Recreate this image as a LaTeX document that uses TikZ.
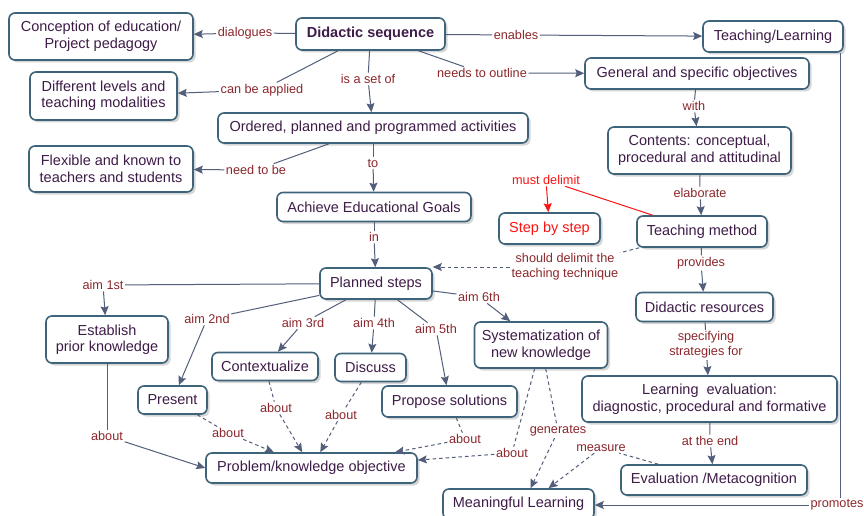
\documentclass[tikz,border=0pt]{standalone}
\usepackage{fontspec}
\setmainfont{Liberation Sans}
\usetikzlibrary{arrows.meta,shadows,calc}

\definecolor{boxc}{RGB}{61,100,122}
\definecolor{txtc}{RGB}{62,28,72}
\definecolor{labc}{RGB}{140,40,45}
\definecolor{lnc}{RGB}{82,94,122}
\definecolor{redc}{RGB}{250,20,20}

\tikzset{
  cbox/.style={draw=boxc, line width=1.6pt, rounded corners=6pt, fill=white,
    text=txtc, align=center, inner sep=0pt,
    font=\fontsize{14.5}{16.5}\selectfont,
    drop shadow={shadow xshift=2.5pt, shadow yshift=-2.5pt, fill=gray!70, opacity=0.45}},
  lab/.style={text=labc, align=center, inner sep=1.5pt,
    font=\fontsize{12.7}{15}\selectfont},
  ln/.style={draw=lnc, line width=1pt},
  arr/.style={ln, -{Stealth[length=9pt,width=8pt,inset=1.5pt]}},
  dsh/.style={dash pattern=on 3.5pt off 3pt},
  redln/.style={draw=redc, line width=1pt},
  redarr/.style={redln, -{Stealth[length=9pt,width=8pt,inset=1.5pt]}},
}

\begin{document}
\begin{tikzpicture}[x=1pt,y=-1pt]
\fill[white] (0,0) rectangle (864,516);
\useasboundingbox (0,0) rectangle (864,516);

% ---- concepts ----
\node[cbox, minimum width=184, minimum height=47] (ce) at (101,36.5) {Conception of education/\\Project pedagogy};
\node[cbox, minimum width=149, minimum height=32, font=\fontsize{14.5}{16.5}\selectfont\bfseries] (ds) at (370.5,34) {Didactic sequence};
\node[cbox, minimum width=140, minimum height=31] (tl) at (773,36.5) {Teaching/Learning};
\node[cbox, minimum width=147, minimum height=48] (dl) at (103.5,96) {Different levels and\\teaching modalities};
\node[cbox, minimum width=224, minimum height=31] (go) at (697,73.5) {General and specific objectives};
\node[cbox, minimum width=310, minimum height=30] (op) at (373,128) {Ordered, planned and programmed activities};
\node[cbox, minimum width=164, minimum height=46] (fl) at (111,169) {Flexible and known to\\teachers and students};
\node[cbox, minimum width=183, minimum height=47] (ct) at (699.5,150.5) {Contents: conceptual,\\procedural and attitudinal};
\node[cbox, minimum width=194, minimum height=29] (ae) at (374,207) {Achieve Educational Goals};
\node[cbox, minimum width=101, minimum height=31, text=redc] (sb) at (549.5,228.5) {Step by step};
\node[cbox, minimum width=130, minimum height=31] (tm) at (702,231.5) {Teaching method};
\node[cbox, minimum width=112, minimum height=31] (ps) at (376,283.5) {Planned steps};
\node[cbox, minimum width=137, minimum height=29] (dr) at (704.5,307) {Didactic resources};
\node[cbox, minimum width=122, minimum height=47] (ep) at (107,339.5) {Establish\\prior knowledge};
\node[cbox, minimum width=133, minimum height=46] (sy) at (541,345) {Systematization of\\new knowledge};
\node[cbox, minimum width=106, minimum height=28] (cx) at (265,366.5) {Contextualize};
\node[cbox, minimum width=71, minimum height=28] (di) at (370.5,367.5) {Discuss};
\node[cbox, minimum width=255, minimum height=46] (le) at (709.5,399) {Learning\ \ evaluation:\\diagnostic, procedural and formative};
\node[cbox, minimum width=69, minimum height=28] (pre) at (172.5,400) {Present};
\node[cbox, minimum width=135, minimum height=31] (po) at (449.5,401.5) {Propose solutions};
\node[cbox, minimum width=211, minimum height=30] (pk) at (311.5,468) {Problem/knowledge objective};
\node[cbox, minimum width=186, minimum height=30] (em) at (714,480) {Evaluation /Metacognition};
\node[cbox, minimum width=151, minimum height=30] (ml) at (518.5,504) {Meaningful Learning};

% ---- linking phrases ----
\node[lab] (ldia) at (245,33) {dialogues};
\node[lab] (len) at (516,35) {enables};
\node[lab] (lcba) at (262,90) {can be applied};
\node[lab] (lset) at (368,79) {is a set of};
\node[lab] (lout) at (482,73) {needs to outline};
\node[lab] (lwith) at (694,106) {with};
\node[lab] (lneed) at (256,170) {need to be};
\node[lab] (lto) at (373,163) {to};
\node[lab] (lelab) at (700,193) {elaborate};
\node[lab, text=redc] (lmust) at (546,180) {must delimit};
\node[lab] (lshd) at (565,267) {should delimit the\\teaching technique};
\node[lab] (lin) at (374,237) {in};
\node[lab] (lprov) at (701,263) {provides};
\node[lab] (lspec) at (706,345) {specifying\\strategies for};
\node[lab] (lend) at (710,441) {at the end};
\node[lab] (lprom) at (837,505) {promotes};
\node[lab] (la1) at (103,285) {aim 1st};
\node[lab] (la2) at (207,319) {aim 2nd};
\node[lab] (la3) at (303,323) {aim 3rd};
\node[lab] (la4) at (374,323) {aim 4th};
\node[lab] (la5) at (436,329) {aim 5th};
\node[lab] (la6) at (479,297) {aim 6th};
\node[lab] (lab1) at (107,436) {about};
\node[lab] (lab2) at (228,433) {about};
\node[lab] (lab3) at (276,408) {about};
\node[lab] (lab4) at (341,415) {about};
\node[lab] (lab5) at (465,439) {about};
\node[lab] (lab6) at (512,453) {about};
\node[lab] (lgen) at (558,431) {generates};
\node[lab] (lmeas) at (601,448) {measure};

% ---- connectors ----
\draw[ln] (ds) -- (ldia);   \draw[arr] (ldia) -- (ce);
\draw[ln] (ds) -- (len);    \draw[arr] (len) -- (tl);
\draw[ln] (ds) -- (lcba);   \draw[arr] (lcba) -- (dl);
\draw[ln] (ds) -- (lset);   \draw[arr] (lset) -- (op);
\draw[ln] (ds) -- (lout);   \draw[arr] (lout) -- (go);
\draw[ln] (go) -- (lwith);  \draw[arr] (lwith) -- (ct);
\draw[ln] (op) -- (lneed);  \draw[arr] (lneed) -- (fl);
\draw[ln] (op) -- (lto);    \draw[arr] (lto) -- (ae);
\draw[ln] (ct) -- (lelab);  \draw[arr] (lelab) -- (tm);
\draw[redln] (tm) -- (lmust); \draw[redarr] (lmust) -- (sb);
\draw[ln,dsh] (tm) -- (lshd);  \draw[arr,dsh] (lshd.west) -- (lshd.west -| ps.east);
\draw[ln] (ae) -- (lin);    \draw[arr] (lin) -- (ps);
\draw[ln] (tm) -- (lprov);  \draw[arr] (lprov) -- (dr);
\draw[ln] (dr) -- (lspec);  \draw[arr] (lspec) -- (le);
\draw[ln] (le) -- (lend);   \draw[arr] (lend) -- (em);
\draw[ln] ([xshift=3pt]lprom.north) -- ([xshift=3pt]lprom.north |- tl.south);
\draw[arr] (lprom.west) -- (lprom.west -| ml.east);

\draw[ln] (ps) -- (la1);    \draw[arr] (la1) -- (ep);
\draw[ln] (ps) -- (la2);    \draw[arr] (la2) -- (pre);
\draw[ln] (ps) -- (la3);    \draw[arr] (la3) -- (cx);
\draw[ln] (ps) -- (la4);    \draw[arr] (la4) -- (di);
\draw[ln] (ps) -- (la5);    \draw[arr] (la5) -- (po);
\draw[ln] (ps) -- (la6);    \draw[arr] (la6) -- (sy);

\draw[ln] (ep) -- (lab1);   \draw[arr] (lab1) -- (pk.west);
\draw[ln,dsh] (pre) -- (lab2); \draw[arr,dsh] (lab2) -- (pk);
\draw[ln,dsh] (cx) -- (lab3);  \draw[arr,dsh] (lab3) -- (pk);
\draw[ln,dsh] (di) -- (lab4);  \draw[arr,dsh] (lab4) -- (pk);
\draw[ln,dsh] (po) -- (lab5);  \draw[arr,dsh] (lab5) -- (pk);
\draw[ln,dsh] (sy) -- (lab6);  \draw[arr,dsh] (lab6) -- (pk);
\draw[ln,dsh] (sy) -- (lgen);  \draw[arr,dsh] (lgen) -- ([xshift=12pt]ml.north);
\draw[ln,dsh] (em) -- (lmeas); \draw[arr,dsh] (lmeas) -- ([xshift=30pt]ml.north);
\end{tikzpicture}
\end{document}
